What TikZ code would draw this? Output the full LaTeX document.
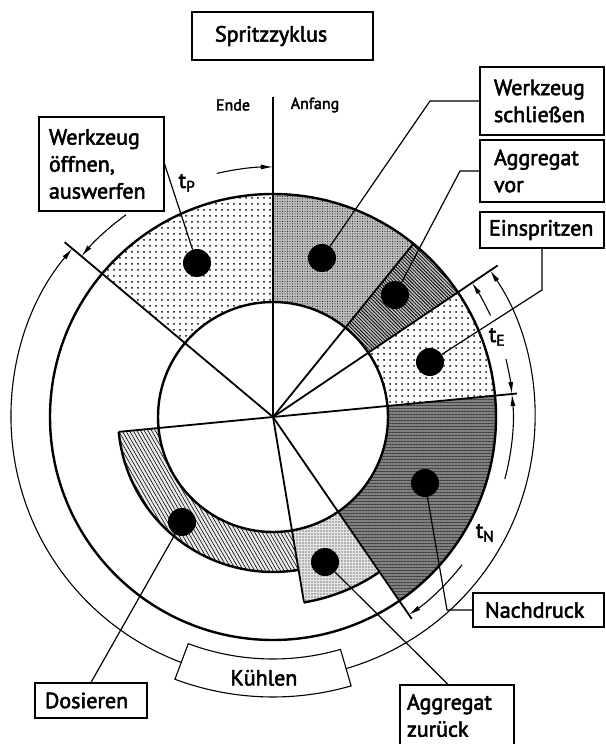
\documentclass[tikz,border=0pt]{standalone}
\usepackage{fontspec}
\setmainfont{PT Sans}[FakeBold=2.5]
\usetikzlibrary{arrows.meta,patterns.meta}
\lefthyphenmin=62

\begin{document}
\begin{tikzpicture}[x=1pt, y=1pt,
  box/.style={rectangle, draw, line width=1.1pt, align=left, inner ysep=0pt,
    font=\fontsize{22}{27}\selectfont},
  ring/.style={line width=2.4pt},
  edge/.style={line width=1.8pt},
  leader/.style={line width=1.2pt},
  dimline/.style={line width=1.1pt, -{Latex[length=12pt,width=5pt]}},
  spot/.style={circle, fill=black, minimum size=28pt, inner sep=0pt},
  dotfill/.style={fill=white, postaction={pattern={Dots[distance=6pt,radius=1pt]}}},
  meshfill/.style={fill=black!26, postaction={pattern={Dots[distance=2.5pt,radius=0.5pt]}}},
  hatchfill/.style={fill=black!25, postaction={pattern={Lines[angle=-45,distance=2.5pt,line width=0.8pt]}}},
  darkfill/.style={fill=black!50, postaction={pattern={Lines[angle=0,distance=3pt,line width=0.7pt]}, pattern color=black!75}},
  finefill/.style={fill=black!10, postaction={pattern={Dots[distance=3pt,radius=0.6pt]}}},
  stripefill/.style={fill=black!8, postaction={pattern={Lines[angle=-60,distance=3.2pt,line width=0.6pt]}}},
  lbl/.style={font=\fontsize{22}{27}\selectfont},
  small/.style={font=\fontsize{16}{18}\selectfont}
]
\useasboundingbox (-273,-327) rectangle (332,417);

% sectors of the cycle
\fill[dotfill] (90:115) arc[start angle=90, end angle=140, radius=115] -- (140:223) arc[start angle=140, end angle=90, radius=223] -- cycle;
\fill[meshfill] (51:115) arc[start angle=51, end angle=90, radius=115] -- (90:223) arc[start angle=90, end angle=51, radius=223] -- cycle;
\fill[hatchfill] (34:115) arc[start angle=34, end angle=51, radius=115] -- (51:223) arc[start angle=51, end angle=34, radius=223] -- cycle;
\fill[dotfill] (5.5:115) arc[start angle=5.5, end angle=34, radius=115] -- (34:223) arc[start angle=34, end angle=5.5, radius=223] -- cycle;
\fill[darkfill] (-55.5:115) arc[start angle=-55.5, end angle=5.5, radius=115] -- (5.5:223) arc[start angle=5.5, end angle=-55.5, radius=223] -- cycle;
\fill[finefill] (-80.5:115) arc[start angle=-80.5, end angle=-55.5, radius=115] -- (-55.5:188) arc[start angle=-55.5, end angle=-80.5, radius=188] -- cycle;
\fill[stripefill] (-174.5:115) arc[start angle=-174.5, end angle=-80.5, radius=115] -- (-80.5:155) arc[start angle=-80.5, end angle=-174.5, radius=155] -- cycle;

% circles and outlines
\draw[ring] (0,0) circle[radius=115];
\draw[ring] (0,0) circle[radius=223];
\draw[ring] (-174.5:155) arc[start angle=-174.5, end angle=-80.5, radius=155];
\draw[ring] (-80.5:188) arc[start angle=-80.5, end angle=-55.5, radius=188];

% radial lines
\draw[edge] (0,0) -- (90:320);
\draw[edge] (0,0) -- (140:272);
\draw[edge] (0,0) -- (51:223);
\draw[edge] (0,0) -- (34:271);
\draw[edge] (-174.5:155) -- (5.5:245);
\draw[edge] (0,0) -- (-55.5:245);
\draw[edge] (0,0) -- (-80.5:188);

% time spans
\draw[dimline] (103:250) arc[start angle=103, end angle=90, radius=250];
\draw[dimline] (126:250) arc[start angle=126, end angle=140, radius=250];
\draw[dimline] (25:240) arc[start angle=25, end angle=34, radius=240];
\draw[dimline] (14:240) arc[start angle=14, end angle=5.5, radius=240];
\draw[dimline] (-15:240) arc[start angle=-15, end angle=5.5, radius=240];
\draw[dimline] (-38:240) arc[start angle=-38, end angle=-55.5, radius=240];
\draw[dimline] (-73.8:262) arc[start angle=-73.8, end angle=34, radius=262];
\draw[dimline] (-110.5:262) arc[start angle=-110.5, end angle=-220, radius=262];

\node[lbl] (tp) at (-86,234) {t\textsubscript{P}};
\node[lbl] (te) at (224,80) {t\textsubscript{E}};
\node[lbl] (tn) at (212,-116) {t\textsubscript{N}};
\node[small] (ende) at (-40,312) {Ende};
\node[small] (anfang) at (42,312) {Anfang};

% cooling
\draw[line width=1.1pt] (-110.5:242) arc[start angle=-110.5, end angle=-73.8, radius=242] -- (-73.8:280) arc[start angle=-73.8, end angle=-110.5, radius=280] -- cycle;
\node[lbl] (kuehlen) at (-92:261) {Kühlen};

% marks
\node[spot] (doeffnen) at (-76,154) {};
\node[spot] (dschl) at (49,159) {};
\node[spot] (dvor) at (122,122) {};
\node[spot] (dein) at (157,55) {};
\node[spot] (dnach) at (152,-66) {};
\node[spot] (dzur) at (52,-145) {};
\node[spot] (ddos) at (-91,-105) {};

% boxes
\node[box, minimum width=181pt, minimum height=48pt, inner xsep=23pt, text width=135pt] (title) at (9.5,381) {Spritzzyklus};
\node[box, minimum width=125pt, minimum height=94pt, inner xsep=10pt, text width=105pt] (oeffnen) at (-171.5,253) {Werkzeug\\öffnen,\\auswerfen};
\node[box, minimum width=124pt, minimum height=68pt, inner xsep=14pt, text width=96pt] (schliessen) at (269,316) {Werkzeug\\schließen};
\node[box, minimum width=124pt, minimum height=62pt, inner xsep=14pt, text width=96pt] (vor) at (269,246) {Aggregat\\vor};
\node[box, minimum width=124pt, minimum height=36pt, inner xsep=9pt, text width=106pt] (einspritz) at (269,187) {Einspritzen};
\node[box, minimum width=131pt, minimum height=34pt, inner xsep=12pt, text width=107pt] (nachdruck) at (265.5,-193) {Nachdruck};
\node[box, minimum width=114pt, minimum height=61pt, inner xsep=7pt, text width=100pt] (zurueck) at (184,-298.5) {Aggregat\\zurück};
\node[box, minimum width=112pt, minimum height=35pt, inner xsep=10pt, text width=92pt] (dosieren) at (-182,-283.5) {Dosieren};

% leaders
\draw[leader] (doeffnen) -- (oeffnen.east);
\draw[leader] (dschl) -- (157,316) -- (schliessen.west);
\draw[leader] (dvor) -- (187,246) -- (vor.west);
\draw[leader] (dein) -- (einspritz.south |- 0,127) -- (einspritz.south);
\draw[leader] (dnach) -- (nachdruck.west -| 174,0) -- (nachdruck.west);
\draw[leader] (dzur) -- ([xshift=-9pt]zurueck.north);
\draw[leader] (ddos) -- (dosieren.north);
\end{tikzpicture}
\end{document}
